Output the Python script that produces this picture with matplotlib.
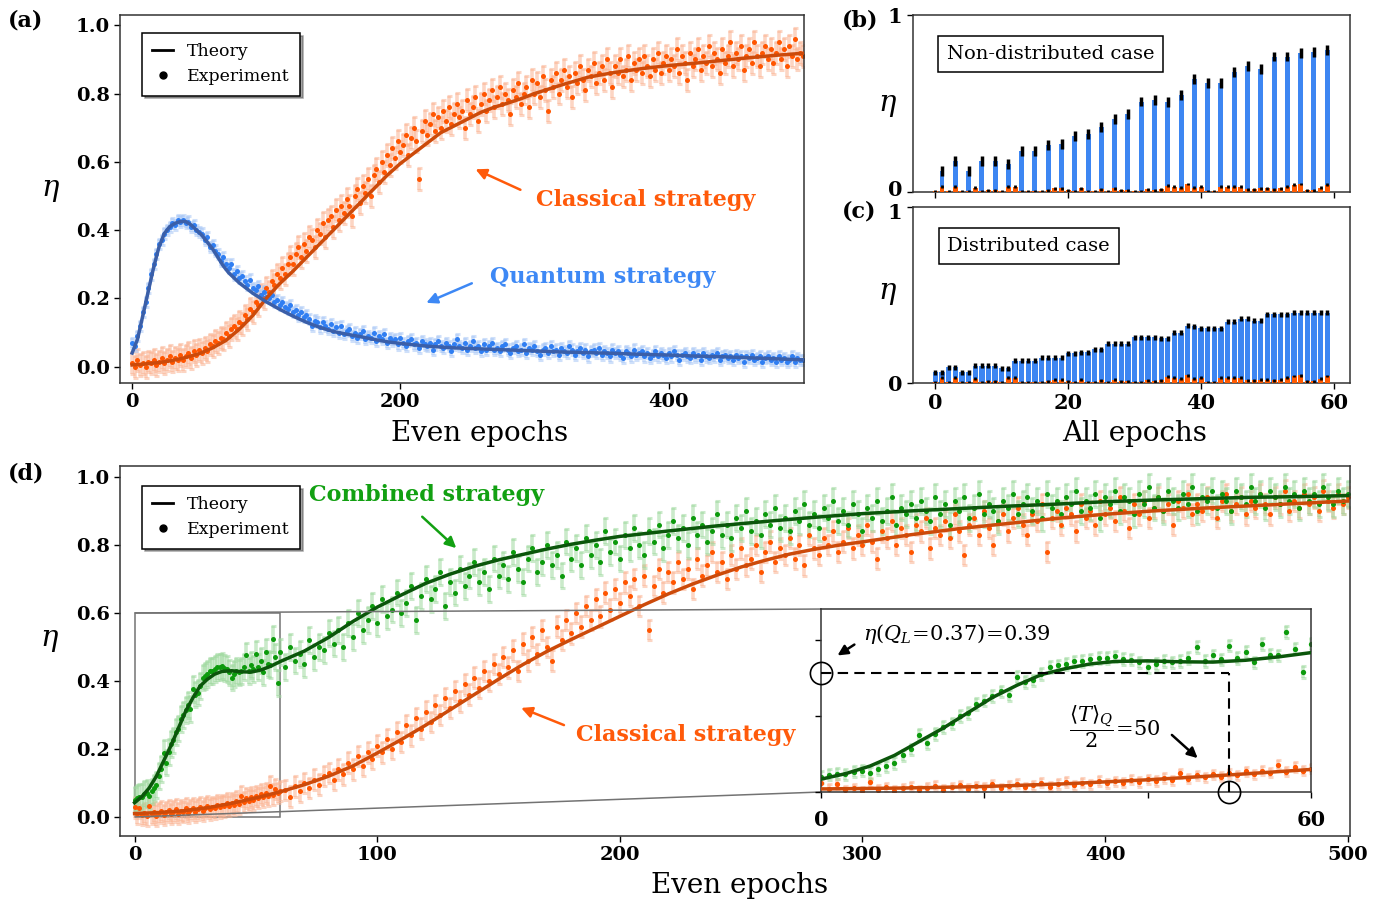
import numpy as np
import matplotlib
matplotlib.use("Agg")
import matplotlib.pyplot as plt
import matplotlib.transforms as mtrans
from matplotlib.lines import Line2D
from matplotlib.colors import to_rgba
from mpl_toolkits.axes_grid1.inset_locator import mark_inset

plt.rcParams['font.family'] = ['DejaVu Serif']
plt.rcParams['mathtext.fontset'] = 'dejavuserif'

# ---------------- Panel (a) data ----------------
a_quant_theory_ep = [0, 4, 8, 12, 16, 20, 24, 28, 32, 36, 40, 44, 48, 52, 56, 60, 64, 68, 72, 76, 80, 90,
                     100, 110, 120, 130, 140, 150, 160, 170, 180, 190, 200, 220, 240, 260, 280, 300, 320,
                     340, 360, 380, 400, 420, 440, 460, 480, 500]
a_quant_theory = [0.04, 0.08, 0.15, 0.22, 0.29, 0.35, 0.39, 0.41, 0.42, 0.425, 0.425, 0.415, 0.40, 0.385,
                  0.365, 0.345, 0.32, 0.295, 0.275, 0.26, 0.245, 0.215, 0.19, 0.168, 0.148, 0.13, 0.115,
                  0.103, 0.095, 0.088, 0.08, 0.073, 0.068, 0.06, 0.055, 0.052, 0.049, 0.046, 0.043, 0.041,
                  0.039, 0.036, 0.034, 0.031, 0.029, 0.026, 0.023, 0.02]
a_class_theory_ep = [0, 10, 20, 30, 40, 50, 60, 70, 80, 90, 100, 110, 120, 130, 140, 150, 160, 170, 180,
                     190, 200, 210, 220, 230, 240, 250, 260, 270, 280, 290, 300, 320, 340, 360, 380, 400,
                     420, 440, 460, 480, 500]
a_class_theory = [0.005, 0.008, 0.012, 0.018, 0.027, 0.038, 0.055, 0.077, 0.11, 0.15, 0.2, 0.243, 0.28,
                  0.32, 0.36, 0.40, 0.44, 0.48, 0.52, 0.56, 0.595, 0.625, 0.655, 0.685, 0.705, 0.725,
                  0.745, 0.76, 0.772, 0.785, 0.8, 0.825, 0.848, 0.862, 0.873, 0.882, 0.889, 0.897, 0.905,
                  0.912, 0.918]
# experiment, every even epoch 0..500 (step 2)
a_quant_exp = [
    0.07, 0.06, 0.09, 0.12, 0.16, 0.19, 0.23, 0.27, 0.30, 0.33,
    0.36, 0.37, 0.39, 0.40, 0.41, 0.42, 0.415, 0.43, 0.425, 0.43,
    0.42, 0.425, 0.41, 0.415, 0.40, 0.395, 0.39, 0.37, 0.38, 0.35,
    0.355, 0.34, 0.33, 0.31, 0.32, 0.30, 0.29, 0.30, 0.27, 0.28,
    0.26, 0.265, 0.25, 0.24, 0.255, 0.23, 0.225, 0.235, 0.21, 0.22,
    0.205, 0.20, 0.21, 0.19, 0.195, 0.18, 0.19, 0.175, 0.17, 0.18,
    0.16, 0.165, 0.15, 0.16, 0.145, 0.15, 0.14, 0.12, 0.135, 0.13,
    0.115, 0.13, 0.12, 0.11, 0.125, 0.105, 0.115, 0.10, 0.12, 0.095,
    0.105, 0.11, 0.09, 0.10, 0.085, 0.095, 0.105, 0.08, 0.09, 0.085,
    0.10, 0.075, 0.09, 0.08, 0.095, 0.07, 0.085, 0.075, 0.08, 0.065,
    0.085, 0.07, 0.06, 0.075, 0.08, 0.065, 0.07, 0.055, 0.075, 0.065,
    0.06, 0.07, 0.05, 0.065, 0.075, 0.06, 0.055, 0.07, 0.06, 0.045,
    0.065, 0.08, 0.06, 0.055, 0.07, 0.05, 0.06, 0.075, 0.055, 0.06,
    0.045, 0.065, 0.05, 0.06, 0.07, 0.05, 0.055, 0.045, 0.06, 0.065,
    0.05, 0.04, 0.055, 0.06, 0.045, 0.05, 0.065, 0.04, 0.055, 0.05,
    0.06, 0.045, 0.035, 0.05, 0.055, 0.04, 0.06, 0.045, 0.05, 0.035,
    0.055, 0.045, 0.04, 0.06, 0.05, 0.035, 0.045, 0.055, 0.04, 0.05,
    0.03, 0.045, 0.05, 0.04, 0.055, 0.035, 0.045, 0.04, 0.03, 0.05,
    0.04, 0.045, 0.035, 0.025, 0.045, 0.04, 0.03, 0.05, 0.035, 0.04,
    0.045, 0.03, 0.04, 0.025, 0.035, 0.045, 0.03, 0.04, 0.035, 0.025,
    0.04, 0.03, 0.045, 0.035, 0.02, 0.035, 0.04, 0.03, 0.025, 0.04,
    0.03, 0.035, 0.02, 0.04, 0.03, 0.025, 0.035, 0.03, 0.04, 0.02,
    0.03, 0.035, 0.025, 0.03, 0.02, 0.035, 0.025, 0.03, 0.015, 0.03,
    0.025, 0.035, 0.02, 0.025, 0.03, 0.015, 0.025, 0.03, 0.02, 0.025,
    0.015, 0.03, 0.02, 0.025, 0.015, 0.02, 0.03, 0.015, 0.025, 0.02,
    0.02]
a_class_exp = [
    0.01, 0.0, 0.02, 0.005, 0.01, 0.0, 0.015, 0.01, 0.02, 0.005,
    0.015, 0.025, 0.01, 0.02, 0.03, 0.015, 0.025, 0.02, 0.035, 0.02,
    0.03, 0.04, 0.025, 0.045, 0.035, 0.05, 0.04, 0.055, 0.045, 0.065,
    0.06, 0.075, 0.07, 0.085, 0.08, 0.10, 0.09, 0.11, 0.12, 0.11,
    0.13, 0.125, 0.15, 0.14, 0.17, 0.16, 0.19, 0.18, 0.21, 0.2,
    0.23, 0.22, 0.25, 0.24, 0.27, 0.26, 0.29, 0.27, 0.30, 0.32,
    0.30, 0.33, 0.35, 0.32, 0.36, 0.34, 0.38, 0.37, 0.35, 0.40,
    0.39, 0.42, 0.38, 0.43, 0.44, 0.41, 0.46, 0.43, 0.47, 0.45,
    0.49, 0.47, 0.44, 0.50, 0.52, 0.48, 0.53, 0.51, 0.55, 0.50,
    0.56, 0.58, 0.54, 0.60, 0.57, 0.62, 0.59, 0.64, 0.61, 0.66,
    0.63, 0.65, 0.68, 0.62, 0.67, 0.70, 0.66, 0.55, 0.69, 0.72,
    0.68, 0.71, 0.74, 0.69, 0.73, 0.70, 0.75, 0.72, 0.76, 0.71,
    0.74, 0.77, 0.73, 0.75, 0.70, 0.78, 0.74, 0.76, 0.79, 0.72,
    0.77, 0.80, 0.75, 0.78, 0.81, 0.76, 0.79, 0.82, 0.77, 0.80,
    0.78, 0.74, 0.81, 0.79, 0.83, 0.77, 0.80, 0.82, 0.76, 0.84,
    0.80, 0.83, 0.79, 0.85, 0.81, 0.75, 0.84, 0.82, 0.86, 0.80,
    0.84, 0.87, 0.82, 0.85, 0.79, 0.86, 0.83, 0.88, 0.84, 0.81,
    0.87, 0.85, 0.89, 0.83, 0.86, 0.88, 0.84, 0.90, 0.86, 0.82,
    0.88, 0.86, 0.90, 0.85, 0.87, 0.91, 0.84, 0.89, 0.87, 0.90,
    0.86, 0.91, 0.88, 0.85, 0.90, 0.87, 0.92, 0.86, 0.89, 0.91,
    0.87, 0.90, 0.88, 0.93, 0.86, 0.91, 0.89, 0.84, 0.92, 0.88,
    0.90, 0.93, 0.87, 0.91, 0.89, 0.94, 0.88, 0.92, 0.90, 0.86,
    0.93, 0.89, 0.91, 0.95, 0.88, 0.92, 0.90, 0.94, 0.87, 0.91,
    0.93, 0.89, 0.95, 0.91, 0.88, 0.92, 0.94, 0.90, 0.93, 0.89,
    0.92, 0.95, 0.90, 0.93, 0.88, 0.94, 0.91, 0.96, 0.90, 0.92,
    0.91]
a_quant_err = 0.015
a_class_err = 0.032

# ---------------- Panels (b), (c) data ----------------
b_quant_epochs = list(range(1, 60, 2))
b_quant = [0.117, 0.173, 0.117, 0.177, 0.177, 0.16, 0.233, 0.233, 0.263, 0.271,
           0.314, 0.329, 0.367, 0.414, 0.44, 0.511, 0.519, 0.506, 0.549, 0.637,
           0.615, 0.615, 0.68, 0.712, 0.694, 0.765, 0.765, 0.784, 0.789, 0.803]
b_quant_err = 0.028
c_quant = [0.06, 0.06, 0.089, 0.089, 0.06, 0.06, 0.098, 0.098, 0.098, 0.098,
           0.085, 0.085, 0.128, 0.128, 0.128, 0.128, 0.143, 0.143, 0.143, 0.143,
           0.17, 0.17, 0.175, 0.175, 0.192, 0.192, 0.223, 0.223, 0.223, 0.223,
           0.26, 0.26, 0.26, 0.26, 0.255, 0.255, 0.287, 0.287, 0.325, 0.322,
           0.311, 0.311, 0.311, 0.311, 0.349, 0.349, 0.364, 0.364, 0.355, 0.355,
           0.39, 0.39, 0.39, 0.39, 0.40, 0.40, 0.40, 0.40, 0.40, 0.40]
c_quant_err = 0.014
bc_class = [0.005, 0.03, 0.005, 0.03, 0.005, 0.005, 0.025, 0.005, 0.01, 0.01,
            0.005, 0.03, 0.03, 0.005, 0.005, 0.005, 0.005, 0.01, 0.02, 0.02,
            0.01, 0.005, 0.02, 0.005, 0.005, 0.015, 0.005, 0.02, 0.01, 0.01,
            0.005, 0.005, 0.015, 0.01, 0.015, 0.035, 0.03, 0.025, 0.045, 0.025,
            0.03, 0.005, 0.005, 0.03, 0.03, 0.03, 0.03, 0.015, 0.015, 0.02,
            0.02, 0.015, 0.02, 0.03, 0.04, 0.045, 0.01, 0.01, 0.025, 0.04]
bc_class_err = 0.008

# ---------------- Panel (d) data ----------------
d_comb_theory_ep = [0, 3, 6, 9, 12, 15, 18, 21, 24, 27, 30, 33, 36, 40, 44, 48, 52, 56, 60, 70, 80, 90,
                    100, 110, 120, 130, 140, 150, 160, 170, 180, 190, 200, 220, 240, 260, 280, 300, 320,
                    340, 360, 380, 400, 420, 440, 460, 480, 500]
d_comb_theory = [0.042, 0.06, 0.085, 0.12, 0.165, 0.21, 0.26, 0.31, 0.35, 0.385, 0.405, 0.42, 0.428,
                 0.43, 0.427, 0.426, 0.432, 0.443, 0.457, 0.488, 0.528, 0.575, 0.617, 0.653, 0.687, 0.714,
                 0.737, 0.756, 0.772, 0.788, 0.802, 0.814, 0.825, 0.841, 0.856, 0.869, 0.881, 0.892, 0.9,
                 0.907, 0.914, 0.92, 0.927, 0.932, 0.936, 0.94, 0.942, 0.945]
d_class_theory_ep = [0, 10, 20, 30, 40, 50, 60, 70, 80, 90, 100, 110, 120, 130, 140, 150, 160, 170, 180,
                     190, 200, 210, 220, 230, 240, 250, 260, 270, 280, 290, 300, 320, 340, 360, 380, 400,
                     420, 440, 460, 480, 500]
d_class_theory = [0.01, 0.013, 0.018, 0.027, 0.04, 0.056, 0.074, 0.095, 0.12, 0.15, 0.188, 0.228, 0.27,
                  0.315, 0.36, 0.405, 0.448, 0.487, 0.522, 0.556, 0.59, 0.624, 0.656, 0.685, 0.711, 0.735,
                  0.755, 0.773, 0.787, 0.799, 0.809, 0.83, 0.848, 0.863, 0.878, 0.89, 0.9, 0.908, 0.915,
                  0.922, 0.929]
# experiment: every epoch 0..60, then every even epoch 62..500
d_comb_exp_early = [
    0.05, 0.057, 0.06, 0.058, 0.067, 0.07, 0.062, 0.075, 0.084, 0.095,
    0.12, 0.14, 0.187, 0.16, 0.19, 0.214, 0.225, 0.25, 0.26, 0.288,
    0.30, 0.315, 0.33, 0.317, 0.377, 0.36, 0.366, 0.386, 0.41, 0.415,
    0.42, 0.428, 0.43, 0.435, 0.44, 0.44, 0.445, 0.437, 0.434, 0.425,
    0.41, 0.42, 0.43, 0.425, 0.43, 0.44, 0.475, 0.43, 0.448, 0.435,
    0.48, 0.44, 0.46, 0.425, 0.486, 0.45, 0.448, 0.524, 0.47, 0.393,
    0.486]
d_class_exp_early = [
    0.028, 0.01, 0.026, 0.005, 0.012, 0.003, 0.032, 0.008, 0.015, 0.004,
    0.012, 0.018, 0.006, 0.014, 0.02, 0.008, 0.016, 0.022, 0.01, 0.019,
    0.014, 0.025, 0.012, 0.02, 0.027, 0.016, 0.022, 0.03, 0.018, 0.026,
    0.033, 0.022, 0.03, 0.025, 0.036, 0.028, 0.035, 0.031, 0.04, 0.033,
    0.041, 0.036, 0.046, 0.038, 0.062, 0.044, 0.055, 0.048, 0.058, 0.05,
    0.062, 0.055, 0.068, 0.058, 0.07, 0.063, 0.09, 0.066, 0.082, 0.07,
    0.077]
d_comb_exp_late = [
    0.44, 0.50, 0.46, 0.48, 0.45, 0.52, 0.47, 0.50, 0.49, 0.54,
    0.51, 0.55, 0.50, 0.57, 0.53, 0.60, 0.55, 0.58, 0.62, 0.57,
    0.64, 0.59, 0.61, 0.66, 0.60, 0.63, 0.68, 0.58, 0.65, 0.70,
    0.64, 0.67, 0.72, 0.62, 0.69, 0.66, 0.73, 0.68, 0.71, 0.75,
    0.69, 0.72, 0.67, 0.76, 0.71, 0.74, 0.70, 0.78, 0.73, 0.69,
    0.76, 0.79, 0.72, 0.75, 0.80, 0.74, 0.77, 0.71, 0.81, 0.76,
    0.79, 0.74, 0.82, 0.77, 0.80, 0.75, 0.84, 0.78, 0.81, 0.76,
    0.83, 0.79, 0.85, 0.80, 0.77, 0.84, 0.81, 0.86, 0.79, 0.83,
    0.87, 0.82, 0.85, 0.80, 0.88, 0.83, 0.86, 0.81, 0.84, 0.89,
    0.83, 0.86, 0.82, 0.88, 0.85, 0.90, 0.84, 0.87, 0.83, 0.89,
    0.86, 0.91, 0.85, 0.88, 0.84, 0.90, 0.87, 0.92, 0.86, 0.89,
    0.85, 0.91, 0.88, 0.93, 0.87, 0.90, 0.86, 0.92, 0.89, 0.84,
    0.91, 0.88, 0.93, 0.87, 0.90, 0.94, 0.86, 0.91, 0.89, 0.92,
    0.88, 0.93, 0.90, 0.87, 0.94, 0.89, 0.92, 0.86, 0.93, 0.90,
    0.94, 0.88, 0.91, 0.95, 0.89, 0.92, 0.90, 0.87, 0.93, 0.91,
    0.95, 0.89, 0.92, 0.94, 0.90, 0.93, 0.88, 0.95, 0.91, 0.93,
    0.89, 0.94, 0.92, 0.96, 0.90, 0.93, 0.91, 0.95, 0.88, 0.94,
    0.92, 0.96, 0.90, 0.94, 0.93, 0.89, 0.95, 0.92, 0.97, 0.91,
    0.94, 0.90, 0.96, 0.93, 0.91, 0.95, 0.92, 0.97, 0.90, 0.94,
    0.93, 0.96, 0.91, 0.95, 0.93, 0.90, 0.96, 0.94, 0.92, 0.97,
    0.93, 0.95, 0.91, 0.96, 0.94, 0.92, 0.97, 0.93, 0.95, 0.91,
    0.96, 0.93, 0.95, 0.92, 0.97, 0.94, 0.92, 0.96, 0.93, 0.95]
d_class_exp_late = [
    0.08, 0.06, 0.09, 0.075, 0.10, 0.085, 0.11, 0.095, 0.12, 0.13,
    0.11, 0.14, 0.125, 0.16, 0.14, 0.18, 0.15, 0.19, 0.17, 0.21,
    0.19, 0.23, 0.20, 0.25, 0.22, 0.27, 0.24, 0.29, 0.26, 0.31,
    0.28, 0.33, 0.30, 0.35, 0.32, 0.37, 0.34, 0.39, 0.36, 0.41,
    0.38, 0.43, 0.40, 0.45, 0.42, 0.47, 0.44, 0.49, 0.43, 0.51,
    0.46, 0.53, 0.48, 0.55, 0.50, 0.46, 0.56, 0.52, 0.58, 0.54,
    0.60, 0.56, 0.62, 0.58, 0.64, 0.59, 0.66, 0.61, 0.67, 0.63,
    0.69, 0.65, 0.70, 0.62, 0.71, 0.55, 0.68, 0.73, 0.66, 0.72,
    0.69, 0.75, 0.70, 0.73, 0.67, 0.76, 0.71, 0.74, 0.78, 0.72,
    0.75, 0.70, 0.77, 0.73, 0.79, 0.74, 0.76, 0.80, 0.72, 0.78,
    0.81, 0.75, 0.79, 0.77, 0.82, 0.76, 0.80, 0.74, 0.83, 0.79,
    0.77, 0.82, 0.80, 0.84, 0.78, 0.81, 0.85, 0.79, 0.83, 0.80,
    0.86, 0.81, 0.76, 0.84, 0.82, 0.87, 0.80, 0.85, 0.83, 0.78,
    0.86, 0.84, 0.88, 0.79, 0.85, 0.83, 0.87, 0.82, 0.89, 0.84,
    0.77, 0.86, 0.88, 0.83, 0.90, 0.85, 0.80, 0.87, 0.89, 0.84,
    0.88, 0.91, 0.86, 0.83, 0.89, 0.87, 0.92, 0.78, 0.88, 0.90,
    0.86, 0.91, 0.89, 0.84, 0.92, 0.88, 0.90, 0.86, 0.93, 0.89,
    0.91, 0.87, 0.94, 0.90, 0.85, 0.92, 0.89, 0.93, 0.88, 0.91,
    0.94, 0.90, 0.92, 0.86, 0.93, 0.91, 0.95, 0.89, 0.92, 0.90,
    0.94, 0.91, 0.88, 0.93, 0.95, 0.90, 0.92, 0.94, 0.89, 0.93,
    0.91, 0.95, 0.92, 0.89, 0.94, 0.92, 0.96, 0.90, 0.93, 0.91,
    0.95, 0.92, 0.94, 0.90, 0.96, 0.93, 0.91, 0.95, 0.92, 0.94]
d_comb_err = 0.038
d_class_err = 0.03

# inset annotation values
q_L_eta = 0.39
t_half = 50

# ---------------- colours ----------------
BLUE_PT, BLUE_LN, BLUE_ERR, BLUE_TXT = '#2f7ef2', '#3b5fa8', '#a9c8f6', '#3d88f5'
ORG_PT, ORG_LN, ORG_ERR, ORG_TXT = '#ff5500', '#cc4a0a', '#fbb493', '#ff5a0a'
GRN_PT, GRN_LN, GRN_ERR, GRN_TXT = '#0c9a0c', '#0b560b', '#9fd99f', '#12a012'
BAR_BLUE, BAR_ORG = '#3d86f2', '#ff5a00'
SPINE = '#333333'

fig = plt.figure(figsize=(13.83, 9.0), dpi=100)


def style_axes(ax, labelsize=14):
    for s in ax.spines.values():
        s.set_color(SPINE)
        s.set_linewidth(1.1)
    ax.tick_params(direction='out', length=4, width=1, labelsize=labelsize, colors='black')
    for lab in ax.get_xticklabels() + ax.get_yticklabels():
        lab.set_fontweight('bold')


def draw_exp(ax, x, y, err, pc, ec, ms=3.6):
    ax.errorbar(x, y, yerr=err, fmt='o', ms=ms, color=pc, mec='none',
                ecolor=to_rgba(ec, 0.55), elinewidth=2.6, capsize=1.8, capthick=2.2, zorder=2)


def legend(ax, anchor):
    handles = [Line2D([], [], color='black', lw=2),
               Line2D([], [], color='black', marker='o', ls='none', ms=5)]
    leg = ax.legend(handles, ['Theory', 'Experiment'], loc='upper left', bbox_to_anchor=anchor,
                    fontsize=12.5, frameon=True, fancybox=False, shadow=True, edgecolor='black',
                    framealpha=1, handlelength=1.2, borderpad=0.6, labelspacing=0.45,
                    borderaxespad=0)
    leg.get_frame().set_linewidth(1.1)
    leg.set_zorder(10)


# ================= Panel (a) =================
ax_a = fig.add_axes([0.0868, 0.5744, 0.4946, 0.4089])
draw_exp(ax_a, np.arange(0, 2 * len(a_class_exp), 2), a_class_exp, a_class_err, ORG_PT, ORG_ERR)
draw_exp(ax_a, np.arange(0, 2 * len(a_quant_exp), 2), a_quant_exp, a_quant_err, BLUE_PT, BLUE_ERR)
ax_a.plot(a_class_theory_ep, a_class_theory, color=ORG_LN, lw=2.5, zorder=3)
ax_a.plot(a_quant_theory_ep, a_quant_theory, color=BLUE_LN, lw=2.5, zorder=3)
ax_a.set_xlim(-9, 501)
ax_a.set_ylim(-0.048, 1.03)
ax_a.set_xticks([0, 200, 400])
ax_a.set_yticks([0.0, 0.2, 0.4, 0.6, 0.8, 1.0])
ax_a.set_yticklabels(['0.0', '0.2', '0.4', '0.6', '0.8', '1.0'])
style_axes(ax_a)
ax_a.set_xlabel('Even epochs', fontsize=20)
ax_a.xaxis.set_label_coords(0.526, -0.10)
ax_a.set_ylabel(r'$\eta$', fontsize=21, rotation=0, va='center', ha='center')
ax_a.yaxis.set_label_coords(-0.102, 0.524)
legend(ax_a, (0.032, 0.951))
ax_a.text(0.769, 0.497, 'Classical strategy', color=ORG_TXT, fontsize=16, fontweight='bold',
          ha='center', va='center', transform=ax_a.transAxes)
ax_a.annotate('', xy=(0.516, 0.584), xytext=(0.589, 0.522), xycoords='axes fraction',
              arrowprops=dict(arrowstyle='-|>', color=ORG_TXT, lw=1.8, mutation_scale=16))
ax_a.text(0.705, 0.288, 'Quantum strategy', color=BLUE_TXT, fontsize=16, fontweight='bold',
          ha='center', va='center', transform=ax_a.transAxes)
ax_a.annotate('', xy=(0.444, 0.215), xytext=(0.518, 0.274), xycoords='axes fraction',
              arrowprops=dict(arrowstyle='-|>', color=BLUE_TXT, lw=1.8, mutation_scale=16))

# ================= Panel (b) =================
ax_b = fig.add_axes([0.660, 0.7867, 0.316, 0.1967])
ep_all = np.arange(len(bc_class))
ax_b.bar(b_quant_epochs, b_quant, width=0.75, color=BAR_BLUE, yerr=b_quant_err,
         error_kw=dict(ecolor='black', elinewidth=2.5, capsize=0), zorder=2)
ax_b.bar(ep_all, bc_class, width=0.75, color=BAR_ORG, yerr=bc_class_err,
         error_kw=dict(ecolor='black', elinewidth=2.0, capsize=0), zorder=3)
ax_b.set_xlim(-3.4, 62.4)
ax_b.set_ylim(0, 1)
ax_b.set_xticks([0, 20, 40, 60])
ax_b.set_xticklabels([])
ax_b.set_yticks([0, 1])
ax_b.set_yticklabels(['0', '1'])
style_axes(ax_b, labelsize=15)
ax_b.set_ylabel(r'$\eta$', fontsize=21, rotation=0, va='center', ha='center')
ax_b.yaxis.set_label_coords(-0.057, 0.49)
ax_b.text(0.316, 0.78, 'Non-distributed case', fontsize=14, ha='center', va='center',
          transform=ax_b.transAxes,
          bbox=dict(boxstyle='square,pad=0.45', fc='white', ec='black', lw=1.1))
# nudge the "0" label of (b) up a little so it does not collide with (c)'s "1"
ax_b.get_yticklabels()[0].set_transform(
    ax_b.get_yticklabels()[0].get_transform() + mtrans.ScaledTranslation(0, 2.5 / 72, fig.dpi_scale_trans))

# ================= Panel (c) =================
ax_c = fig.add_axes([0.660, 0.5744, 0.316, 0.1956])
ax_c.bar(np.arange(len(c_quant)), c_quant, width=0.8, color=BAR_BLUE, yerr=c_quant_err,
         error_kw=dict(ecolor='black', elinewidth=2.5, capsize=0), zorder=2)
ax_c.bar(ep_all, bc_class, width=0.75, color=BAR_ORG, yerr=bc_class_err,
         error_kw=dict(ecolor='black', elinewidth=2.0, capsize=0), zorder=3)
ax_c.set_xlim(-3.4, 62.4)
ax_c.set_ylim(0, 1)
ax_c.set_xticks([0, 20, 40, 60])
ax_c.set_yticks([0, 1])
ax_c.set_yticklabels(['0', '1'])
style_axes(ax_c, labelsize=15)
ax_c.get_yticklabels()[1].set_transform(
    ax_c.get_yticklabels()[1].get_transform() + mtrans.ScaledTranslation(0, -3.0 / 72, fig.dpi_scale_trans))
ax_c.set_xlabel('All epochs', fontsize=20)
ax_c.xaxis.set_label_coords(0.508, -0.21)
ax_c.set_ylabel(r'$\eta$', fontsize=21, rotation=0, va='center', ha='center')
ax_c.yaxis.set_label_coords(-0.057, 0.51)
ax_c.text(0.265, 0.778, 'Distributed case', fontsize=14, ha='center', va='center',
          transform=ax_c.transAxes,
          bbox=dict(boxstyle='square,pad=0.45', fc='white', ec='black', lw=1.1))

# ================= Panel (d) =================
ax_d = fig.add_axes([0.0868, 0.0711, 0.8894, 0.4111])
n_early = len(d_comb_exp_early)
ep_d = np.concatenate([np.arange(n_early),
                       np.arange(n_early + 1, n_early + 1 + 2 * len(d_comb_exp_late), 2)])
comb_exp = np.array(d_comb_exp_early + d_comb_exp_late)
class_exp = np.array(d_class_exp_early + d_class_exp_late)
draw_exp(ax_d, ep_d, class_exp, d_class_err, ORG_PT, ORG_ERR)
draw_exp(ax_d, ep_d, comb_exp, d_comb_err, GRN_PT, GRN_ERR)
ax_d.plot(d_class_theory_ep, d_class_theory, color=ORG_LN, lw=2.5, zorder=3)
ax_d.plot(d_comb_theory_ep, d_comb_theory, color=GRN_LN, lw=2.5, zorder=3)
ax_d.set_xlim(-6, 501)
ax_d.set_ylim(-0.056, 1.032)
ax_d.set_xticks([0, 100, 200, 300, 400, 500])
ax_d.set_yticks([0.0, 0.2, 0.4, 0.6, 0.8, 1.0])
ax_d.set_yticklabels(['0.0', '0.2', '0.4', '0.6', '0.8', '1.0'])
style_axes(ax_d)
ax_d.set_xlabel('Even epochs', fontsize=20)
ax_d.xaxis.set_label_coords(0.504, -0.097)
ax_d.set_ylabel(r'$\eta$', fontsize=21, rotation=0, va='center', ha='center')
ax_d.yaxis.set_label_coords(-0.057, 0.53)
legend(ax_d, (0.0179, 0.946))
ax_d.text(0.249, 0.922, 'Combined strategy', color=GRN_TXT, fontsize=16, fontweight='bold',
          ha='center', va='center', transform=ax_d.transAxes)
ax_d.annotate('', xy=(0.275, 0.773), xytext=(0.244, 0.868), xycoords='axes fraction',
              arrowprops=dict(arrowstyle='-|>', color=GRN_TXT, lw=1.8, mutation_scale=16))
ax_d.text(0.460, 0.273, 'Classical strategy', color=ORG_TXT, fontsize=16, fontweight='bold',
          ha='center', va='center', transform=ax_d.transAxes)
ax_d.annotate('', xy=(0.324, 0.349), xytext=(0.363, 0.297), xycoords='axes fraction',
              arrowprops=dict(arrowstyle='-|>', color=ORG_TXT, lw=1.8, mutation_scale=16))

# ---------------- Inset ----------------
axins = fig.add_axes([0.5936, 0.12, 0.3543, 0.2033])
draw_exp(axins, ep_d, class_exp, d_class_err * 0.5, ORG_PT, ORG_ERR, ms=3.8)
draw_exp(axins, ep_d, comb_exp, d_comb_err * 0.5, GRN_PT, GRN_ERR, ms=3.8)
axins.plot(d_class_theory_ep, d_class_theory, color=ORG_LN, lw=2.5, zorder=3)
axins.plot(d_comb_theory_ep, d_comb_theory, color=GRN_LN, lw=2.5, zorder=3)
axins.set_xlim(0, 60)
axins.set_ylim(0, 0.6)
axins.set_xticks([0, 20, 40, 60])
axins.set_xticklabels(['0', '', '', '60'])
axins.set_yticks([0, 0.25, 0.5])
axins.set_yticklabels([])
style_axes(axins, labelsize=15)
axins.tick_params(axis='x', pad=9)
axins.plot([0, t_half], [q_L_eta, q_L_eta], color='black', ls='--', lw=1.5, dashes=(5, 3), zorder=4)
axins.plot([t_half, t_half], [0, q_L_eta], color='black', ls='--', lw=1.5, dashes=(5, 3), zorder=4)
axins.plot([0], [q_L_eta], 'o', mfc='none', mec='black', ms=16, mew=1.2, clip_on=False, zorder=5)
axins.plot([t_half], [0], 'o', mfc='none', mec='black', ms=16, mew=1.2, clip_on=False, zorder=5)
axins.text(0.086, 0.863, r'$\eta(Q_L\!=\!0.37)\!=\!0.39$', fontsize=15, ha='left', va='center',
           transform=axins.transAxes)
axins.annotate('', xy=(0.029, 0.738), xytext=(0.073, 0.814), xycoords='axes fraction',
               arrowprops=dict(arrowstyle='-|>', color='black', lw=1.8, mutation_scale=15))
axins.text(0.6, 0.36, r'$\dfrac{\langle T\rangle_Q}{2}\!=\!50$', fontsize=15, ha='center',
           va='center', transform=axins.transAxes)
axins.annotate('', xy=(0.773, 0.175), xytext=(0.712, 0.322), xycoords='axes fraction',
               arrowprops=dict(arrowstyle='-|>', color='black', lw=1.8, mutation_scale=15))
mark_inset(ax_d, axins, loc1=2, loc2=3, fc='none', ec='0.45', lw=1.1)

# ---------------- panel labels ----------------
fig.text(0.006, 0.977, '(a)', fontsize=16, fontweight='bold', va='center')
fig.text(0.609, 0.977, '(b)', fontsize=16, fontweight='bold', va='center')
fig.text(0.609, 0.765, '(c)', fontsize=16, fontweight='bold', va='center')
fig.text(0.006, 0.474, '(d)', fontsize=16, fontweight='bold', va='center')

fig.savefig('out.png', dpi=100)
